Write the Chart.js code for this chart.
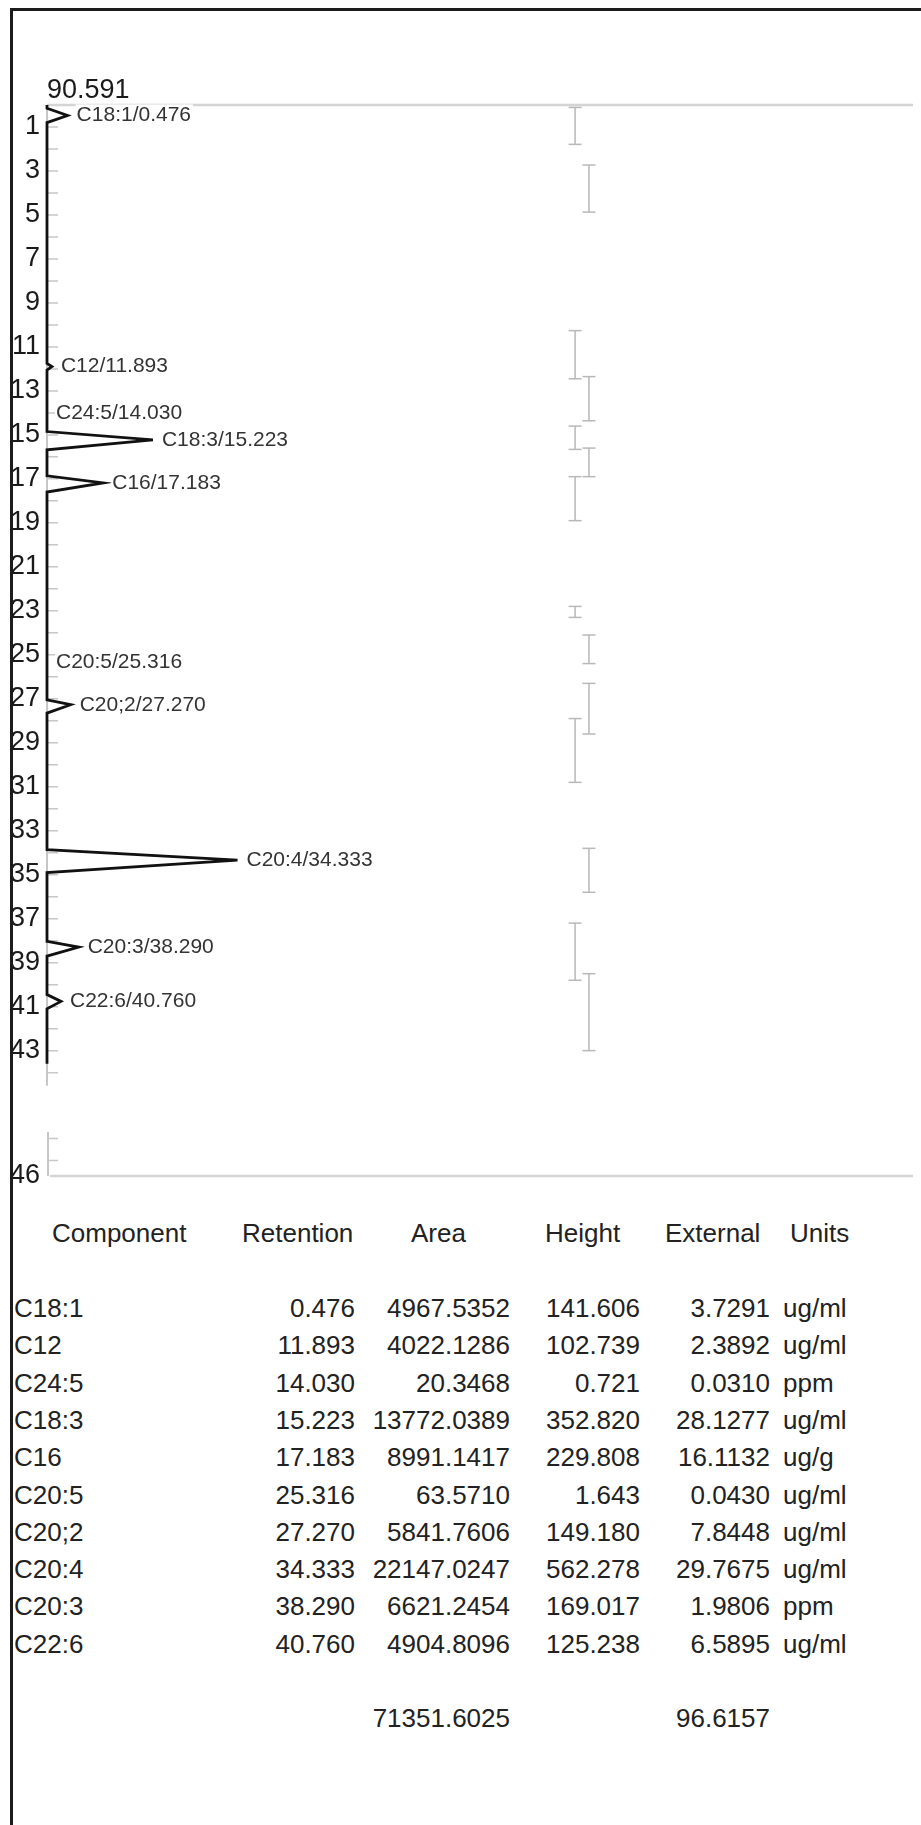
<!DOCTYPE html>
<html>
<head>
<meta charset="utf-8">
<script src="https://cdn.jsdelivr.net/npm/chart.js@4.4.1/dist/chart.umd.min.js"></script>
<style>
  html, body { margin: 0; padding: 0; background: #fff; }
  body { width: 921px; height: 1825px; position: relative; overflow: hidden;
         font-family: "Liberation Sans", Arial, sans-serif; }
  #frame { position: absolute; left: 10px; top: 8px; right: -20px; bottom: -20px;
           border-left: 3px solid #1c1c1c; border-top: 3px solid #1c1c1c; pointer-events: none; }
  #wrap { position: absolute; left: 13px; top: 11px; width: 908px; height: 1190px; }
  #table span { position: absolute; font-size: 26px; line-height: 1; color: #222;
                white-space: nowrap; transform: translateY(-50%); }
  #table span.r { transform: translate(-100%, -50%); }
</style>
</head>
<body>
<div id="wrap"><canvas id="chrom"></canvas></div>
<div id="table"></div>
<div id="frame"></div>

<script>
// peak report
const components = ['C18:1', 'C12', 'C24:5', 'C18:3', 'C16', 'C20:5', 'C20;2', 'C20:4', 'C20:3', 'C22:6'];
const retention = [0.476, 11.893, 14.030, 15.223, 17.183, 25.316, 27.270, 34.333, 38.290, 40.760];
const area = [4967.5352, 4022.1286, 20.3468, 13772.0389, 8991.1417, 63.5710, 5841.7606, 22147.0247, 6621.2454, 4904.8096];
const height = [141.606, 102.739, 0.721, 352.820, 229.808, 1.643, 149.180, 562.278, 169.017, 125.238];
const external = [3.7291, 2.3892, 0.0310, 28.1277, 16.1132, 0.0430, 7.8448, 29.7675, 1.9806, 6.5895];
const units = ['ug/ml', 'ug/ml', 'ppm', 'ug/ml', 'ug/g', 'ug/ml', 'ug/ml', 'ug/ml', 'ppm', 'ug/ml'];
const totalArea = 71351.6025;
const totalExternal = 96.6157;

// trace: where each peak leaves and rejoins the baseline (min)
const peakStart = [0.15, 11.75, null, 14.85, 16.86, null, 27.05, 33.86, 38.03, 40.45];
const peakEnd = [0.80, 12.05, null, 15.68, 17.60, null, 27.65, 34.90, 38.70, 41.10];
const baselineLevel = 90.591;
const traceEnd = 43.6;

// retention windows (min) and the lane each one is drawn in
const windowStart = [0.11, 2.73, 10.26, 12.35, 14.60, 15.60, 16.90, 22.80, 24.10, 26.30, 27.90, 33.80, 37.20, 39.50];
const windowEnd = [1.79, 4.87, 12.45, 14.36, 15.66, 16.90, 18.90, 23.30, 25.40, 28.60, 30.80, 35.80, 39.80, 43.00];
const windowLane = [1, 2, 1, 2, 1, 2, 1, 1, 2, 2, 1, 2, 1, 2];

// time axis
const timeTicks = [1, 3, 5, 7, 9, 11, 13, 15, 17, 19, 21, 23, 25, 27, 29, 31, 33, 35, 37, 39, 41, 43];
const breakLabel = '46';
const axisBreak = [44.6, 46.7];

const FONT = '"Liberation Sans", Arial, sans-serif';

// chromatogram trace
const trace = [{x: baselineLevel, y: 0}];
components.forEach((c, i) => {
  if (peakStart[i] === null || height[i] <= baselineLevel) return;
  trace.push({x: baselineLevel, y: peakStart[i]});
  trace.push({x: height[i], y: retention[i]});
  trace.push({x: baselineLevel, y: peakEnd[i]});
});
trace.push({x: baselineLevel, y: traceEnd});

const windows = [];
windowStart.forEach((s, i) => {
  windows.push({x: windowLane[i], y: s});
  windows.push({x: windowLane[i], y: windowEnd[i]});
  windows.push({x: windowLane[i], y: null});
});

const axisDecor = {
  id: 'axisDecor',
  beforeDatasetsDraw(chart) {
    const {ctx, chartArea: a, scales: {y}} = chart;
    ctx.save();
    ctx.strokeStyle = '#d4d4d4';
    ctx.lineWidth = 2.5;
    ctx.beginPath();
    ctx.moveTo(a.left, a.top); ctx.lineTo(a.right, a.top);
    ctx.moveTo(a.left + 3, a.bottom); ctx.lineTo(a.right, a.bottom);
    ctx.stroke();
    ctx.strokeStyle = '#c6c6c6';
    ctx.lineWidth = 2;
    ctx.beginPath();
    ctx.moveTo(a.left, y.getPixelForValue(0));
    ctx.lineTo(a.left, y.getPixelForValue(axisBreak[0]));
    ctx.moveTo(a.left + 1, y.getPixelForValue(axisBreak[1]));
    ctx.lineTo(a.left + 1, y.getPixelForValue(y.max));
    ctx.stroke();
    ctx.strokeStyle = '#c8c8c8';
    ctx.lineWidth = 1.5;
    ctx.beginPath();
    for (let t = 1; t < y.max; t++) {
      if (t > axisBreak[0] && t < axisBreak[1]) continue;
      const py = y.getPixelForValue(t);
      ctx.moveTo(a.left, py); ctx.lineTo(a.left + 11, py);
    }
    ctx.stroke();
    ctx.restore();
  },
  afterDatasetsDraw(chart) {
    const {ctx, scales: {x, y}} = chart;
    ctx.save();
    ctx.font = '21px ' + FONT;
    ctx.textBaseline = 'middle';
    components.forEach((c, i) => {
      const text = c + '/' + retention[i].toFixed(3);
      const px = x.getPixelForValue(Math.max(height[i], baselineLevel)) + 9;
      const py = y.getPixelForValue(retention[i]);
      const w = ctx.measureText(text).width;
      ctx.fillStyle = '#fff';
      ctx.fillRect(px - 1, py - 11, w + 3, 22);
      ctx.fillStyle = '#333';
      ctx.fillText(text, px, py);
    });
    ctx.restore();
  }
};

new Chart(document.getElementById('chrom'), {
  type: 'scatter',
  data: {
    datasets: [
      {
        label: 'signal',
        data: trace,
        showLine: true,
        clip: 6,
        borderColor: '#111',
        borderWidth: 2.8,
        pointRadius: 0,
        tension: 0
      },
      {
        label: 'windows',
        data: windows,
        xAxisID: 'lane',
        showLine: true,
        spanGaps: false,
        borderColor: '#b8b8b8',
        borderWidth: 1.5,
        pointStyle: 'line',
        pointRadius: 6.5,
        pointBorderColor: '#b8b8b8',
        pointBorderWidth: 1.5
      }
    ]
  },
  options: {
    responsive: true,
    maintainAspectRatio: false,
    animation: false,
    layout: { padding: { left: 0, right: 0, top: 0, bottom: 25 } },
    plugins: { legend: { display: false }, tooltip: { enabled: false } },
    scales: {
      x: {
        type: 'linear',
        position: 'top',
        min: baselineLevel,
        max: 2235,
        grid: { display: false, drawTicks: false },
        border: { display: false },
        ticks: {
          padding: 0,
          align: 'start',
          color: '#1a1a1a',
          font: { family: FONT, size: 27, lineHeight: 1.05 },
          callback: v => v.toFixed(3)
        },
        afterBuildTicks: s => { s.ticks = [{value: s.min}]; },
        afterFit: s => { s.height = 94; }
      },
      lane: {
        type: 'linear',
        axis: 'x',
        display: false,
        min: -37.07,
        max: 25.36
      },
      y: {
        type: 'linear',
        reverse: true,
        min: 0,
        max: 48.7,
        grid: { display: false, drawTicks: false },
        border: { display: false },
        ticks: {
          padding: 7,
          autoSkip: false,
          color: '#1a1a1a',
          font: { family: FONT, size: 27 },
          callback: function (v) { return v === this.max ? breakLabel : String(v); }
        },
        afterBuildTicks: s => { s.ticks = timeTicks.map(v => ({value: v})).concat([{value: s.max}]); },
        afterFit: s => { s.width = 34; }
      }
    }
  },
  plugins: [axisDecor]
});

// results table
const table = document.getElementById('table');
function cell(text, x, y, right) {
  const s = document.createElement('span');
  s.textContent = text;
  s.style.left = x + 'px';
  s.style.top = y + 'px';
  if (right) s.className = 'r';
  table.appendChild(s);
}
const headers = ['Component', 'Retention', 'Area', 'Height', 'External', 'Units'];
const headerX = [52, 242, 411, 545, 665, 790];
headers.forEach((h, i) => cell(h, headerX[i], 1233, false));
components.forEach((c, i) => {
  const ry = 1308 + i * 37.3;
  cell(c, 14, ry, false);
  cell(retention[i].toFixed(3), 355, ry, true);
  cell(area[i].toFixed(4), 510, ry, true);
  cell(height[i].toFixed(3), 640, ry, true);
  cell(external[i].toFixed(4), 770, ry, true);
  cell(units[i], 783, ry, false);
});
cell(totalArea.toFixed(4), 510, 1718, true);
cell(totalExternal.toFixed(4), 770, 1718, true);
</script>
</body>
</html>
